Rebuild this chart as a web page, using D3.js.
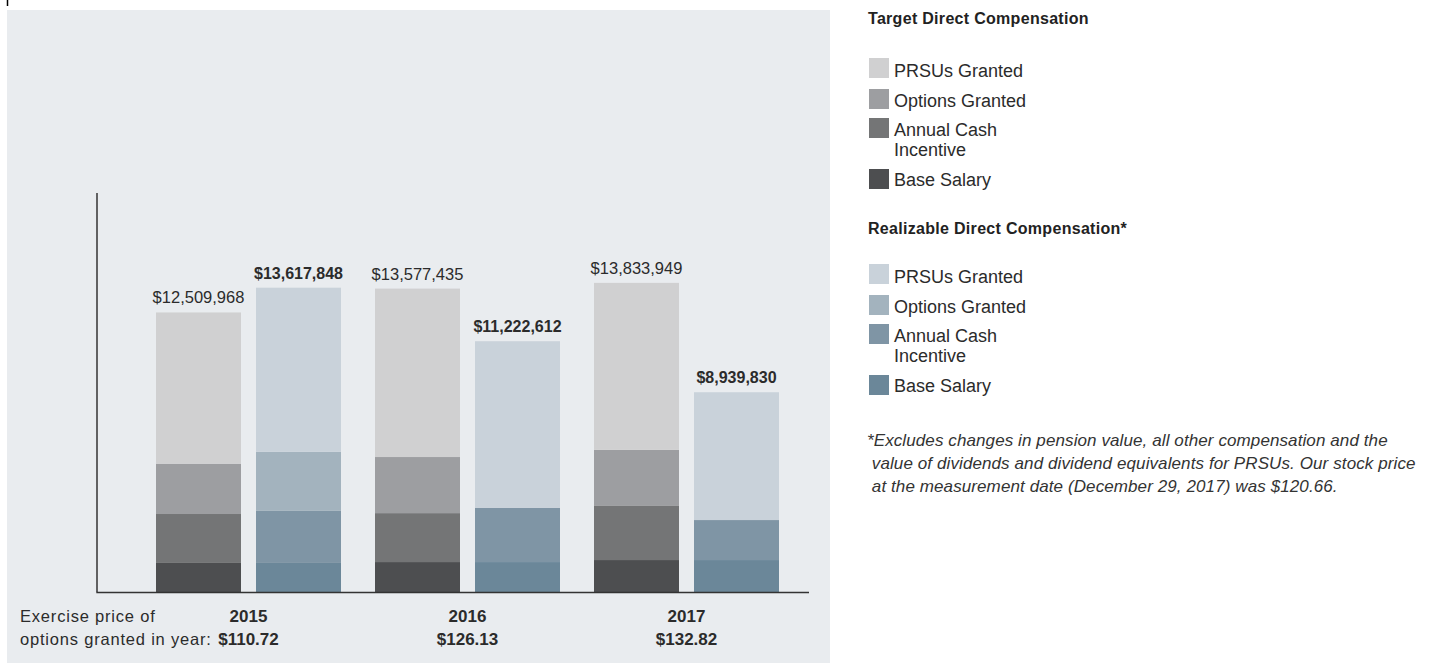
<!DOCTYPE html>
<html>
<head>
<meta charset="utf-8">
<script src="https://cdn.jsdelivr.net/npm/d3@7"></script>
<style>
  body { margin: 0; background: #fff; }
  svg { display: block; font-family: "Liberation Sans", Arial, sans-serif; }
</style>
</head>
<body>
<svg id="chart" width="1429" height="665"></svg>
<script>
// data
var years = ["2015", "2016", "2017"];
var exercisePrices = ["$110.72", "$126.13", "$132.82"];
var components = ["Base Salary", "Annual Cash Incentive", "Options Granted", "PRSUs Granted"];

var targetBase    = [1300000, 1340000, 1430000];
var targetCash    = [2190000, 2190000, 2420000];
var targetOptions = [2240000, 2510000, 2510000];
var targetPrsu    = [6780000, 7537000, 7474000];
var targetTotals  = [12509968, 13577435, 13833949];

var realBase    = [1300000, 1340000, 1430000];
var realCash    = [2330000, 2420000, 1790000];
var realOptions = [2640000, 0, 0];
var realPrsu    = [7348000, 7463000, 5720000];
var realTotals  = [13617848, 11222612, 8939830];

var legendLabels = ["PRSUs Granted", "Options Granted", "Annual Cash|Incentive", "Base Salary"];
var footnote = [
    "*Excludes changes in pension value, all other compensation and the",
    " value of dividends and dividend equivalents for PRSUs. Our stock price",
    " at the measurement date (December 29, 2017) was $120.66."
];

var targetColors = ["#4d4e50", "#747576", "#9d9ea1", "#d0d0d1"];
var realColors   = ["#6b8799", "#7f95a5", "#a3b3be", "#c9d2da"];

function render() {
    var svg = d3.select("#chart");

    // panel
    svg.append("rect")
        .attr("x", 7).attr("y", 10)
        .attr("width", 823).attr("height", 653)
        .attr("fill", "#e9ecef");
    svg.append("line")
        .attr("x1", 7.5).attr("x2", 7.5).attr("y1", 0).attr("y2", 6)
        .attr("stroke", "#000").attr("stroke-width", 1.5);

    var bottom = 592;
    var ys = d3.scaleLinear().domain([0, 17900000]).range([bottom, 192]);
    var xs = d3.scaleBand().domain(years).range([139, 796]);
    var xin = d3.scaleBand().domain(["target", "real"])
        .range([17, 202]).paddingInner(0.15);

    var rows = [];
    years.forEach(function(y, i) {
        rows.push({year: y, kind: "target", total: targetTotals[i],
            "Base Salary": targetBase[i], "Annual Cash Incentive": targetCash[i],
            "Options Granted": targetOptions[i], "PRSUs Granted": targetPrsu[i]});
        rows.push({year: y, kind: "real", total: realTotals[i],
            "Base Salary": realBase[i], "Annual Cash Incentive": realCash[i],
            "Options Granted": realOptions[i], "PRSUs Granted": realPrsu[i]});
    });

    var stacked = d3.stack().keys(components)(rows);

    var g = svg.append("g");
    stacked.forEach(function(layer, li) {
        g.selectAll(null)
            .data(layer)
            .enter()
            .append("rect")
                .attr("x", function(d) { return xs(d.data.year) + xin(d.data.kind); })
                .attr("width", xin.bandwidth())
                .attr("y", function(d) { return ys(d[1]); })
                .attr("height", function(d) { return ys(d[0]) - ys(d[1]); })
                .attr("fill", function(d) {
                    return d.data.kind == "target" ? targetColors[li] : realColors[li];
                });
    });

    // totals above bars
    g.selectAll("text.total")
        .data(rows)
        .enter()
        .append("text")
            .attr("class", "total")
            .attr("x", function(d) { return xs(d.year) + xin(d.kind) + xin.bandwidth() / 2; })
            .attr("y", function(d) { return ys(d.total) - 9; })
            .attr("text-anchor", "middle")
            .style("font-size", function(d) { return d.kind == "real" ? "16px" : "16.5px"; })
            .style("font-weight", function(d) { return d.kind == "real" ? "bold" : "normal"; })
            .style("fill", "#2b2b2b")
            .text(function(d) { return d3.format("$,")(d.total); });

    // axes lines
    svg.append("line")
        .attr("x1", 97).attr("x2", 97).attr("y1", 193).attr("y2", bottom)
        .attr("stroke", "#333").attr("stroke-width", 1.5);
    svg.append("line")
        .attr("x1", 96.3).attr("x2", 809).attr("y1", bottom + 0.5).attr("y2", bottom + 0.5)
        .attr("stroke", "#333").attr("stroke-width", 1.5);

    // bottom labels
    svg.append("text").attr("x", 20).attr("y", 622)
        .style("font-size", "16.5px").style("letter-spacing", "0.8px").style("fill", "#2b2b2b")
        .text("Exercise price of");
    svg.append("text").attr("x", 20).attr("y", 645)
        .style("font-size", "16.5px").style("letter-spacing", "0.8px").style("fill", "#2b2b2b")
        .text("options granted in year:");

    svg.selectAll("text.year")
        .data(years)
        .enter()
        .append("text")
            .attr("class", "year")
            .attr("x", function(d) { return xs(d) + xs.bandwidth() / 2; })
            .attr("y", 622)
            .attr("text-anchor", "middle")
            .style("font-size", "17px").style("font-weight", "bold").style("fill", "#2b2b2b")
            .text(function(d) { return d; });
    svg.selectAll("text.price")
        .data(years)
        .enter()
        .append("text")
            .attr("class", "price")
            .attr("x", function(d) { return xs(d) + xs.bandwidth() / 2; })
            .attr("y", 645)
            .attr("text-anchor", "middle")
            .style("font-size", "17px").style("font-weight", "bold").style("fill", "#2b2b2b")
            .text(function(d, i) { return exercisePrices[i]; });

    // legends
    drawLegend(svg, 24, 25, "Target Direct Compensation", targetColors);
    drawLegend(svg, 234, 231, "Realizable Direct Compensation*", realColors);

    // footnote
    svg.append("g").selectAll("text")
        .data(footnote)
        .enter()
        .append("text")
            .attr("x", 867)
            .attr("y", function(d, i) { return 446 + i * 23; })
            .attr("xml:space", "preserve")
            .style("font-size", "17px").style("letter-spacing", "0.1px")
            .style("font-style", "italic").style("fill", "#333")
            .text(function(d) { return d; });
}

function drawLegend(svg, titleY, top, title, colors) {
    var lg = svg.append("g");
    lg.append("text")
        .attr("x", 868).attr("y", titleY)
        .style("font-size", "16px").style("font-weight", "bold")
        .style("letter-spacing", "0.3px").style("fill", "#222")
        .text(title);
    var swatchY = [33, 64, 93, 144];
    var textY = [52, 82, 111, 161];
    legendLabels.forEach(function(lab, i) {
        lg.append("rect")
            .attr("x", 869).attr("y", top + swatchY[i])
            .attr("width", 20).attr("height", 20)
            .attr("fill", colors[3 - i]);
        lab.split("|").forEach(function(part, j) {
            lg.append("text")
                .attr("x", 894).attr("y", top + textY[i] + j * 20)
                .style("font-size", "18px").style("fill", "#2b2b2b")
                .text(part);
        });
    });
}

render();
</script>
</body>
</html>
